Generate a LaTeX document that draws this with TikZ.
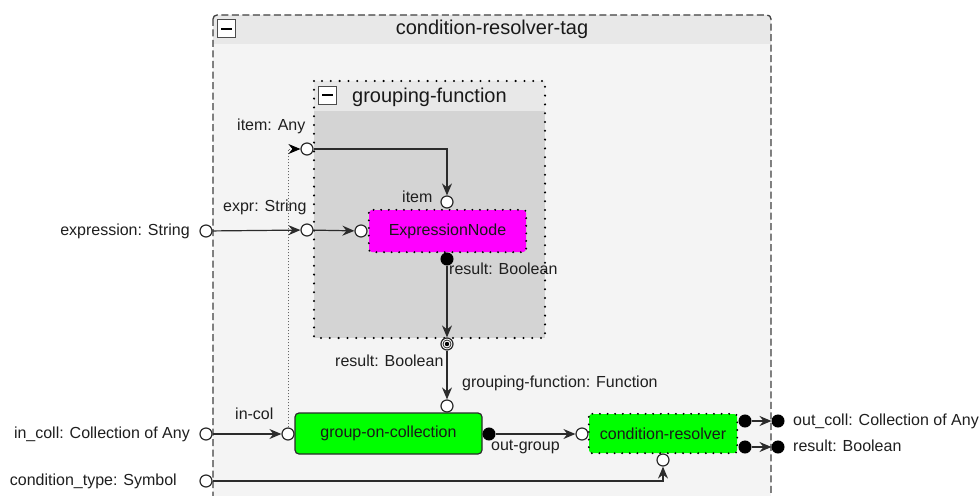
\documentclass[tikz,border=0pt]{standalone}
\usepackage{fontspec}
\setmainfont{Liberation Sans}
\usetikzlibrary{arrows.meta}
\definecolor{bord}{HTML}{2B2B2B}
\definecolor{headA}{HTML}{E8E8E8}
\definecolor{bodyA}{HTML}{F4F4F4}
\definecolor{bodyB}{HTML}{D4D4D4}
\definecolor{magentaN}{HTML}{FF00FF}
\definecolor{greenN}{HTML}{00FF00}
\begin{document}
\begin{tikzpicture}[x=1pt,y=-1pt,
  port/.style={circle, draw=bord, fill=white, line width=1.2pt, minimum size=12pt, inner sep=0pt},
  fport/.style={circle, draw=black, fill=black, line width=1pt, minimum size=12pt, inner sep=0pt},
  lbl/.style={font=\fontsize{16}{19}\selectfont, inner sep=0pt, text height=11.5pt, text depth=3.5pt, text=black!88},
  ttl/.style={font=\fontsize{20}{24}\selectfont, inner sep=0pt, text height=14.5pt, text depth=4pt, text=black!90},
  conn/.style={draw=bord, line width=1.2pt, -{Stealth[length=12pt,width=10pt,inset=4pt]}},
  dotconn/.style={draw=black!60, line width=0.9pt, dash pattern=on 1pt off 2pt, -{Stealth[length=12pt,width=10pt,inset=4pt,color=black,line width=0.8pt]}},
  dotb/.style={draw=black, line width=2.3pt, line cap=round, dash pattern=on 0pt off 8.8pt},
  dotn/.style={draw=black, line width=2.1pt, line cap=round, dash pattern=on 0pt off 7.6pt},
  outerb/.style={draw=black!75, line width=1.3pt, dash pattern=on 7pt off 3.5pt},
  minusbox/.style={draw=black!70, fill=white, line width=1pt, minimum size=18pt, inner sep=0pt},
  blockbox/.style={font=\fontsize{16}{19}\selectfont, inner sep=0pt, text=black!90}
]
\useasboundingbox (0,0) rectangle (979,495);
\clip (0,0) rectangle (979,495);
\fill[white] (0,0) rectangle (979,495);

% outer container
\fill[headA, rounded corners=4pt] (213,15) rectangle (771,60);
\fill[bodyA] (213,44) rectangle (771,530);
\draw[outerb, rounded corners=4pt] (213,15) rectangle (771,530);
\node[minusbox] (omin) at (226.5,29) {};
\draw[black, line width=2.6pt] ([xshift=-5.5pt]omin.center) -- ([xshift=5.5pt]omin.center);
\node[ttl] (otitle) at (492,29) {condition-resolver-tag};

% inner container
\fill[headA] (314,81) rectangle (545,111);
\fill[bodyB] (314,111) rectangle (545,338);
\draw[dotb] (314,81) rectangle (545,338);
\node[minusbox] (imin) at (327.5,95) {};
\draw[black, line width=2.6pt] ([xshift=-5.5pt]imin.center) -- ([xshift=5.5pt]imin.center);
\node[ttl, anchor=west] (ititle) at (352,97) {grouping-function};

% blocks
\node[blockbox, fill=magentaN, minimum width=157pt, minimum height=42pt, rounded corners=3pt] (expr) at (447.5,231) {ExpressionNode};
\draw[dotn, rounded corners=3pt] (expr.north west) rectangle (expr.south east);
\node[blockbox, fill=greenN, draw=bord, line width=1.2pt, minimum width=187pt, minimum height=41pt, rounded corners=4pt] (goc) at (388.5,433.5) {group-on-collection};
\node[blockbox, fill=greenN, minimum width=148pt, minimum height=39pt, rounded corners=3pt] (cres) at (663,433.5) {condition-resolver};
\draw[dotn, rounded corners=3pt] (cres.north west) rectangle (cres.south east);

% ports
\node[port] (inexpr) at (206,231) {};
\node[port] (incoll) at (206,434) {};
\node[port] (inct) at (206,481) {};
\node[port] (pitem) at (307,149) {};
\node[port] (pexpr) at (307,230) {};
\node[port] (eleft) at (361,231) {};
\node[port] (etop) at (447,202) {};
\node[fport] (eres) at (447,259) {};
\node[port] (ires) at (447,344) {};
\fill[black] (ires.center) circle (2.2pt);
\draw[bord, line width=0.8pt] (ires.center) circle (4pt);
\node[port] (gtop) at (447,406) {};
\node[port] (gleft) at (288,434) {};
\node[fport] (gout) at (489,434) {};
\node[port] (cleft) at (582,434) {};
\node[port] (cbot) at (663,460) {};
\node[fport] (cout1) at (745,421) {};
\node[fport] (cout2) at (745,447) {};
\node[fport] (oout1) at (778,421) {};
\node[fport] (oout2) at (778,447) {};

% connectors
\draw[conn] (inexpr) -- (pexpr);
\draw[conn] (pexpr) -- (eleft);
\draw[conn] (pitem) -| (etop);
\draw[conn] (eres) -- (ires);
\draw[conn] (ires) -- (gtop);
\draw[conn] (incoll) -- (gleft);
\draw[dotconn] (gleft) |- (pitem);
\draw[conn] (gout) -- (cleft);
\draw[conn] (inct) -| (cbot);
\draw[conn] (cout1) -- (oout1);
\draw[conn] (cout2) -- (oout2);

% labels
\node[lbl, anchor=west] (litem) at (237,126) {item: Any};
\node[lbl, anchor=west] (lexpr) at (223,207) {expr: String};
\node[lbl, anchor=east] (lexpression) at (190,231) {expression: String};
\node[lbl, anchor=west] (letop) at (402,198) {item};
\node[lbl, anchor=west] (leres) at (449,270) {result: Boolean};
\node[lbl, anchor=west] (lires) at (335,362) {result: Boolean};
\node[lbl, anchor=west] (lgtop) at (462,383) {grouping-function: Function};
\node[lbl, anchor=west] (lincol) at (235,415) {in-col};
\node[lbl, anchor=east] (lincoll) at (190,434) {in\_coll: Collection of Any};
\node[lbl, anchor=east] (lct) at (177,481) {condition\_type: Symbol};
\node[lbl, anchor=west] (lgout) at (491,446) {out-group};
\node[lbl, anchor=west] (lout1) at (793,421) {out\_coll: Collection of Any};
\node[lbl, anchor=west] (lout2) at (793,447) {result: Boolean};
\end{tikzpicture}
\end{document}
